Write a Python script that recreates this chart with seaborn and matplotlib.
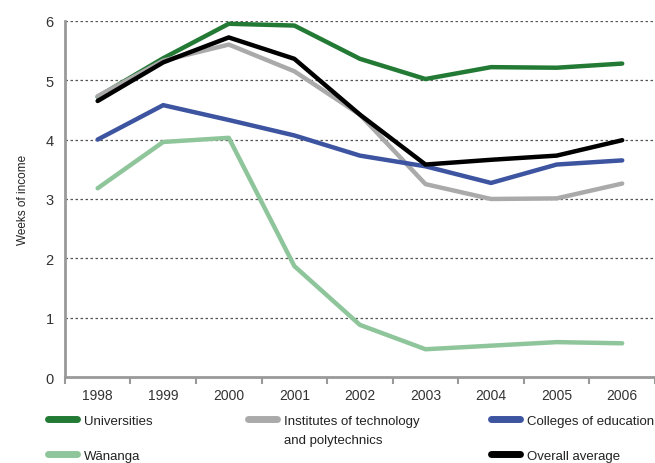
import matplotlib
matplotlib.use("Agg")
import matplotlib.pyplot as plt
from matplotlib.lines import Line2D
import numpy as np
import pandas as pd
import seaborn as sns

years = ["1998", "1999", "2000", "2001", "2002", "2003", "2004", "2005", "2006"]
universities = [4.72, 5.37, 5.95, 5.92, 5.36, 5.02, 5.22, 5.21, 5.28]
institutes = [4.73, 5.33, 5.60, 5.15, 4.42, 3.25, 3.00, 3.01, 3.26]
colleges = [4.00, 4.58, 4.33, 4.07, 3.73, 3.55, 3.27, 3.58, 3.65]
wananga = [3.18, 3.96, 4.03, 1.87, 0.88, 0.47, 0.53, 0.59, 0.57]
overall = [4.65, 5.30, 5.72, 5.36, 4.42, 3.58, 3.66, 3.73, 3.99]

names = ["Wānanga", "Universities", "Institutes of technology\nand polytechnics",
         "Colleges of education", "Overall average"]
series = [wananga, universities, institutes, colleges, overall]
colors = ["#8fc59b", "#237a35", "#aaaaaa", "#3d54a0", "#000000"]

rows = []
for name, vals in zip(names, series):
    for y, v in zip(years, vals):
        rows.append({"Year": y, "Weeks": v, "Group": name})
df = pd.DataFrame(rows)

sns.set_style("white")
plt.rcParams["font.family"] = ["Liberation Sans", "DejaVu Sans"]

fig = plt.figure(figsize=(6.55, 4.64), dpi=100)
ax = fig.add_axes([0.099, 0.185, 0.901, 0.768])

sns.lineplot(data=df, x="Year", y="Weeks", hue="Group", hue_order=names,
             palette=colors, linewidth=3.2, legend=False, ax=ax,
             solid_capstyle="round")

ax.set_xlim(-0.5, 8.5)
ax.set_ylim(0, 6)
ax.set_yticks(range(0, 7))
for y in range(1, 7):
    ax.axhline(y, color="#555555", linestyle=(0, (2, 2)), linewidth=0.9, zorder=0)

ax.set_xticks(range(9))
ax.set_xticklabels(years)
ax.set_xticks(np.arange(-0.5, 9, 1), minor=True)
ax.tick_params(axis="x", which="both", bottom=True)
ax.tick_params(axis="x", which="major", length=0, labelsize=10, pad=8, colors="#333333")
ax.tick_params(axis="x", which="minor", length=5, width=1.5, color="#999999", direction="out")
ax.tick_params(axis="y", length=0, labelsize=10.5, pad=8, colors="#333333")

for s in ["top", "right"]:
    ax.spines[s].set_visible(False)
for s in ["left", "bottom"]:
    ax.spines[s].set_color("#999999")
    ax.spines[s].set_linewidth(2)

ax.set_xlabel("")
ax.set_ylabel("Weeks of income", fontsize=8.5, labelpad=12, color="#222222")

# legend in three columns below the axes
def legend_column(idx, labels, xpos, spacing):
    handles = []
    for i in idx:
        if i is None:
            handles.append(Line2D([], [], alpha=0))
        else:
            handles.append(Line2D([], [], color=colors[i], linewidth=5, solid_capstyle="round"))
    leg = fig.legend(handles, labels, loc="upper left", bbox_to_anchor=(xpos, 0.104),
                     frameon=False, fontsize=9.5, handlelength=2.2, handletextpad=0.5,
                     labelspacing=spacing, borderaxespad=0, borderpad=0)
    for t in leg.get_texts():
        t.set_color("#222222")


legend_column([1, 0], ["Universities", "Wānanga"], 0.074, 1.7)
legend_column([2, None], ["Institutes of technology", "and polytechnics"], 0.379, 0.5)
legend_column([3, 4], ["Colleges of education", "Overall average"], 0.750, 1.7)

fig.savefig("out.png", dpi=100)
